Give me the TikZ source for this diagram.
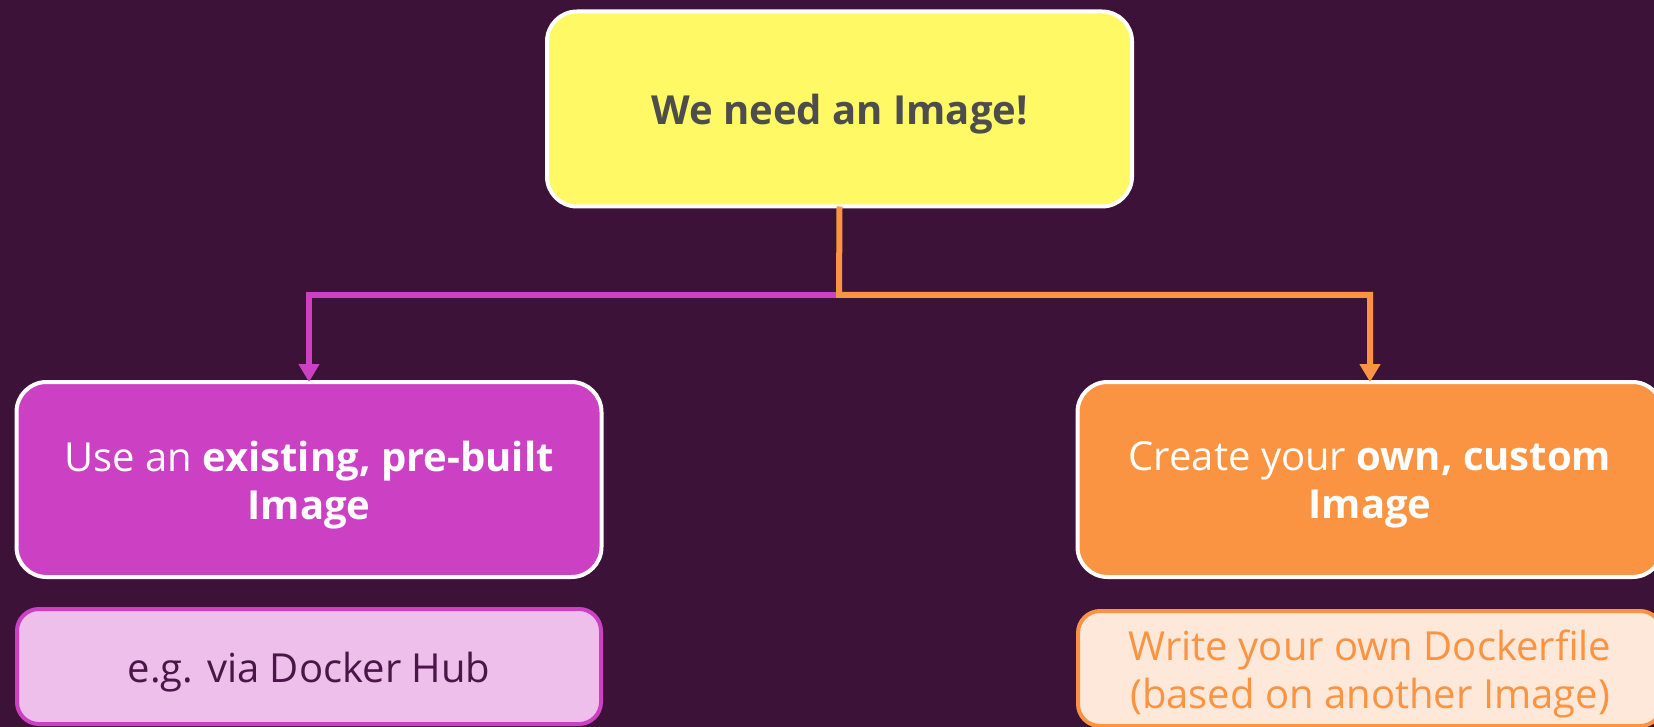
\documentclass[tikz,border=0pt]{standalone}
\usepackage{fontspec}
\setmainfont{Open Sans}
\usetikzlibrary{arrows.meta}
\definecolor{bg}{HTML}{3D1239}
\definecolor{yel}{HTML}{FFF966}
\definecolor{mag}{HTML}{CC41C4}
\definecolor{ora}{HTML}{FA9442}
\definecolor{pinkl}{HTML}{EDBFEA}
\definecolor{peach}{HTML}{FEE8D9}
\definecolor{grayt}{HTML}{4D4D4D}
\definecolor{plumt}{HTML}{4A1547}
\tikzset{
  mainbox/.style={draw=white, line width=4pt, rounded corners=30pt, minimum width=585pt, minimum height=195pt, inner sep=0pt},
  subbox/.style={line width=4pt, rounded corners=22pt, minimum width=584pt, minimum height=115pt, inner sep=0pt},
  boxtext/.style={align=center, inner sep=0pt, font=\fontsize{40}{48}\selectfont},
  conn/.style={line width=6pt},
  tip/.style={-{Triangle[width=20pt,length=18pt]}}
}
\begin{document}
\begin{tikzpicture}[x=1pt,y=-1pt]
\useasboundingbox (0,0) rectangle (1654,727);
\clip (0,0) rectangle (1654,727);
\fill[bg] (0,0) rectangle (1654,727);

\node[mainbox, fill=yel] (top) at (839.5,109) {};
\node[mainbox, fill=mag] (left) at (309,479.5) {};
\node[mainbox, fill=ora] (right) at (1370,479.5) {};
\node[subbox, draw=mag, fill=pinkl] (lsub) at (309,666.5) {};
\node[subbox, draw=ora, fill=peach] (rsub) at (1370,668.5) {};

\node[boxtext, text=grayt] (toptext) at ([yshift=-5.5pt]top.center) {\textbf{We need an Image!}};
\node[boxtext, text=white] (lefttext) at ([yshift=-5.5pt]left.center) {Use an \textbf{existing, pre-built}\\\textbf{Image}};
\node[boxtext, text=white] (righttext) at ([yshift=-5.5pt]right.center) {Create your \textbf{own, custom}\\\textbf{Image}};
\node[boxtext, text=plumt] (lsubtext) at ([yshift=-6pt]lsub.center) {e.g. via Docker Hub};
\node[boxtext, text=ora] (rsubtext) at ([yshift=-5.5pt]rsub.center) {Write your own Dockerfile\\(based on another Image)};

\coordinate (junc) at (839,295);
\draw[conn, mag, tip] (junc) -| ([yshift=-2pt]left.north);
\draw[conn, ora, tip] ([yshift=2pt]top.south) -- (junc) -| ([yshift=-2pt]right.north);
\end{tikzpicture}
\end{document}
